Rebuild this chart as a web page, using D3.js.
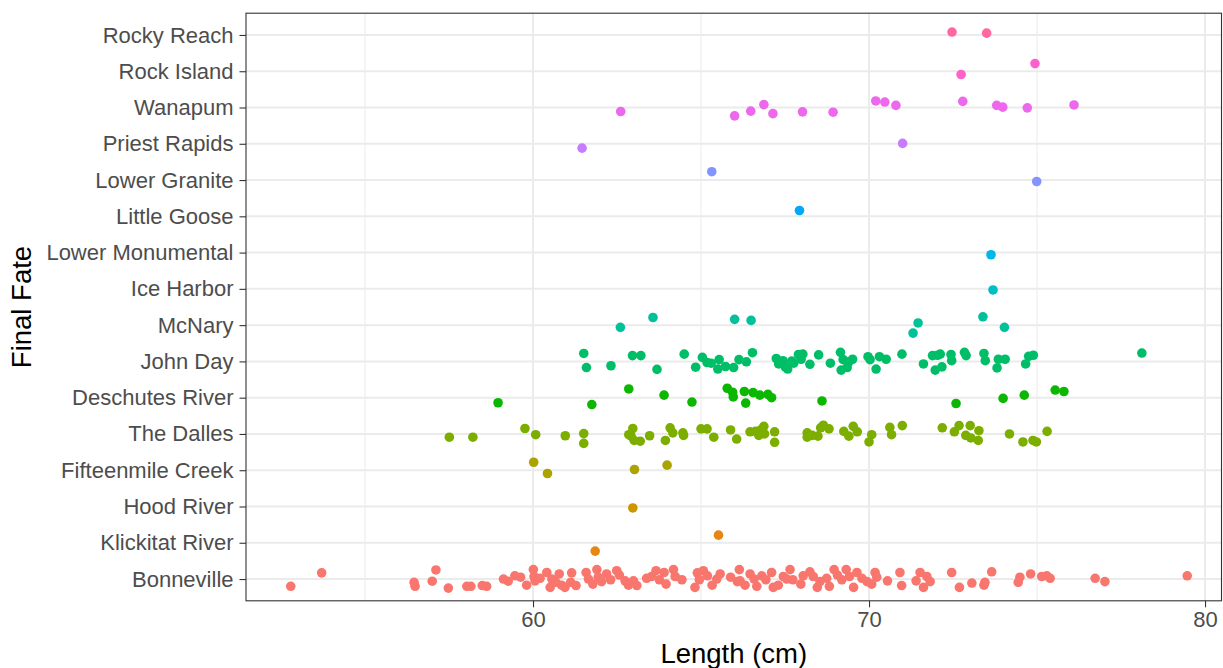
<!DOCTYPE html>
<html>
<head>
<meta charset="utf-8">
<script src="https://cdnjs.cloudflare.com/ajax/libs/d3/7.8.5/d3.min.js"></script>
<style>
  html, body { margin: 0; padding: 0; background: #ffffff; }
  svg { display: block; font-family: "Liberation Sans", Arial, Helvetica, sans-serif; }
</style>
</head>
<body>
<svg id="chart" width="1223" height="668"></svg>
<script>
// ---------------- data ----------------
// categories from bottom to top
const categories = ["Bonneville", "Klickitat River", "Hood River", "Fifteenmile Creek", "The Dalles",
  "Deschutes River", "John Day", "McNary", "Ice Harbor", "Lower Monumental", "Little Goose",
  "Lower Granite", "Priest Rapids", "Wanapum", "Rock Island", "Rocky Reach"];

const xTicks = [60, 70, 80];
const xMinorTicks = [55, 65, 75];

// each point: [length (cm), vertical jitter (category units)]
const bonneville = [
  [52.79,-0.20],[53.71,0.17],[56.46,-0.09],[56.49,-0.20],[57.00,-0.06],[57.11,0.25],[57.48,-0.25],[58.03,-0.20],
  [58.15,-0.20],[58.49,-0.18],[58.62,-0.20],[59.12,0],[59.26,-0.06],[59.46,0.09],[59.63,0.05],[59.81,-0.17],
  [60.01,0.26],[60.03,0.07],[60.06,-0.05],[60.21,0.02],[60.41,0.18],[60.51,-0.23],[60.56,0],[60.68,-0.09],
  [60.78,0.14],[60.85,-0.17],[60.95,-0.23],[61.12,-0.09],[61.15,0.17],[61.28,-0.18],[61.58,0.18],[61.65,0],
  [61.78,-0.14],[61.90,0.26],[61.94,0.05],[62.04,-0.07],[62.19,0.14],[62.31,-0.02],[62.49,0.23],[62.57,0.11],
  [62.74,-0.05],[62.84,-0.17],[62.99,-0.05],[63.09,-0.18],[63.38,0.02],[63.53,0.07],[63.66,0.23],[63.76,-0.02],
  [63.90,0.18],[63.96,-0.14],[64.18,0.26],[64.23,0.07],[64.43,-0.02],[64.82,-0.23],[64.89,0.17],[64.95,-0.02],
  [65.07,0.23],[65.19,0.09],[65.33,-0.17],[65.47,0],[65.57,0.14],[65.88,0.05],[66.08,-0.07],[66.14,0.26],
  [66.16,-0.05],[66.31,-0.17],[66.46,0.14],[66.58,0],[66.66,-0.20],[66.81,0.09],[66.93,-0.02],[67.10,0.18],
  [67.15,-0.23],[67.30,-0.17],[67.45,0.07],[67.55,0],[67.65,0.26],[67.73,-0.02],[67.97,-0.14],[68.04,0.09],
  [68.24,0.20],[68.34,0.07],[68.46,-0.23],[68.54,-0.07],[68.74,0.02],[68.82,-0.20],[68.96,0.26],[69.06,0.11],
  [69.19,-0.02],[69.32,0.26],[69.42,0.07],[69.54,-0.23],[69.64,0.18],[69.79,0.02],[69.94,-0.07],[70.08,-0.14],
  [70.18,0.18],[70.23,0.05],[70.55,-0.05],[70.92,0.18],[70.97,-0.18],[71.40,-0.05],[71.52,0.18],[71.62,-0.23],
  [71.72,0.07],[71.82,-0.07],[72.46,0.18],[72.69,-0.23],[73.06,-0.11],[73.42,-0.17],[73.45,-0.09],[73.65,0.20],
  [74.44,-0.09],[74.49,0.05],[74.81,0.14],[75.14,0.07],[75.29,0.09],[75.39,0.02],[76.73,0.02],[77.02,-0.07],
  [79.47,0.09]
];
const klickitatRiver = [[61.85,-0.23],[65.52,0.21]];
const hoodRiver = [[62.97,-0.04]];
const fifteenmileCreek = [[60.02,0.22],[60.43,-0.09],[63.02,0.02],[63.99,0.14]];
const theDalles = [
  [57.51,-0.09],[58.21,-0.09],[59.76,0.15],[60.08,-0.02],[60.96,-0.05],[61.51,0.01],[61.51,-0.26],[62.85,-0.02],
  [62.97,0.15],[62.92,-0.06],[63.01,-0.18],[63.19,-0.20],[63.47,-0.05],[63.94,-0.18],[64.08,0.17],[64.16,0.03],
  [64.46,0.03],[64.48,-0.04],[65.00,0.14],[65.18,0.14],[65.38,-0.09],[65.88,0.11],[66.06,-0.14],[66.46,0.06],
  [66.62,0.07],[66.72,-0.04],[66.79,0.12],[66.87,0.21],[66.89,0],[67.19,0.06],[67.19,-0.23],[68.16,0.03],
  [68.16,-0.09],[68.31,-0.04],[68.48,-0.06],[68.56,0.17],[68.64,0.24],[68.81,0.14],[69.25,0.07],[69.40,-0.06],
  [69.53,0.21],[69.65,0.06],[70.08,-0.02],[70.00,-0.22],[70.62,0.18],[70.67,-0.02],[70.99,0.23],[72.18,0.17],
  [72.54,0.06],[72.68,0.23],[72.88,-0.04],[73.01,0.23],[73.03,-0.11],[73.27,0.09],[73.25,-0.18],[74.18,0],
  [74.58,-0.22],[74.88,-0.18],[74.98,-0.22],[75.30,0.07]
];
const deschutesRiver = [
  [58.96,-0.14],[61.75,-0.19],[62.85,0.24],[63.90,0.07],[64.73,-0.12],[65.78,0.26],[65.94,0.15],[65.96,0.02],
  [66.29,0.17],[66.33,-0.15],[66.55,0.14],[66.75,0.07],[66.99,0.09],[67.10,0],[68.60,-0.09],[72.59,-0.16],
  [73.99,-0.02],[74.62,0.07],[75.54,0.21],[75.80,0.17]
];
const johnDay = [
  [61.51,0.22],[61.59,-0.17],[62.32,-0.12],[62.96,0.16],[63.21,0.16],[63.69,-0.22],[64.50,0.20],[64.84,-0.16],
  [65.04,0.11],[65.18,-0.03],[65.30,-0.05],[65.50,-0.21],[65.54,0.05],[65.73,-0.14],[65.97,-0.17],[66.13,0.05],
  [66.35,-0.01],[66.53,0.24],[67.24,0.08],[67.31,-0.07],[67.44,0.02],[67.51,-0.16],[67.58,-0.21],[67.70,0.01],
  [67.76,-0.05],[67.90,0.19],[67.98,0.06],[68.03,0.20],[68.24,-0.08],[68.50,0.18],[68.85,-0.05],[69.15,0.25],
  [69.17,-0.24],[69.23,0.05],[69.35,-0.17],[69.40,-0.01],[69.51,0.06],[69.97,0.13],[70.03,0.05],[70.21,-0.21],
  [70.31,0.13],[70.51,0.06],[70.98,0.20],[71.62,-0.07],[71.89,0.16],[71.97,-0.24],[72.04,0.17],[72.12,0.20],
  [72.17,-0.15],[72.44,0.19],[72.46,0.02],[72.84,0.25],[72.89,0.16],[73.42,0.22],[73.46,0.02],[73.81,-0.18],
  [73.85,0.06],[74.05,0.06],[74.66,-0.07],[74.75,0.14],[74.89,0.17],[78.12,0.23]
];
const mcNary = [[62.60,-0.06],[63.57,0.21],[66.00,0.16],[66.49,0.13],[71.31,-0.22],[71.46,0.06],[73.39,0.23],[74.03,-0.06]];
const iceHarbor = [[73.69,-0.03]];
const lowerMonumental = [[73.63,-0.06]];
const littleGoose = [[67.93,0.16]];
const lowerGranite = [[65.32,0.23],[74.99,-0.04]];
const priestRapids = [[61.46,-0.12],[71.00,0.01]];
const wanapum = [
  [62.61,-0.11],[66.00,-0.23],[66.48,-0.10],[66.87,0.08],[67.14,-0.17],[68.02,-0.12],[68.93,-0.13],[70.20,0.18],
  [70.47,0.15],[70.80,0.06],[72.79,0.17],[73.80,0.06],[73.98,0.01],[74.71,-0.01],[76.10,0.07]
];
const rockIsland = [[72.74,-0.09],[74.94,0.21]];
const rockyReach = [[72.47,0.08],[73.50,0.05]];

const series = [bonneville, klickitatRiver, hoodRiver, fifteenmileCreek, theDalles, deschutesRiver, johnDay,
  mcNary, iceHarbor, lowerMonumental, littleGoose, lowerGranite, priestRapids, wanapum, rockIsland, rockyReach];

// ---------------- colours: ggplot2 default hue palette (polar LUV) ----------------
function hueColor(h) {
  const L = 65, C = 100, hr = h * Math.PI / 180;
  const U = C * Math.cos(hr), V = C * Math.sin(hr);
  const Y = 100 * Math.pow((L + 16) / 116, 3);
  const un = 0.1978398, vn = 0.4683363;
  const u = U / (13 * L) + un, v = V / (13 * L) + vn;
  const X = 9.0 * Y * u / (4 * v);
  const Z = -X / 3 - 5 * Y + 3 * Y / v;
  const x = X / 100, y = Y / 100, z = Z / 100;
  const lin = [
    3.240479 * x - 1.537150 * y - 0.498535 * z,
    -0.969256 * x + 1.875992 * y + 0.041556 * z,
    0.055648 * x - 0.204043 * y + 1.057311 * z
  ];
  const g = lin.map(c => {
    const s = c > 0.00304 ? 1.055 * Math.pow(c, 1 / 2.4) - 0.055 : 12.92 * c;
    return Math.round(255 * Math.max(0, Math.min(1, s)));
  });
  return d3.rgb(g[0], g[1], g[2]).formatHex();
}
const n = categories.length;
const colors = categories.map((c, i) => hueColor(15 + i * 360 / n));
const color = d3.scaleOrdinal().domain(categories).range(colors);

// ---------------- layout ----------------
const panel = { left: 246, right: 1221.5, top: 13.2, bottom: 600.8 };
const svg = d3.select("#chart");
svg.append("rect").attr("width", 1223).attr("height", 668).attr("fill", "#ffffff");

const x = d3.scaleLinear().domain([51.458, 80.49]).range([panel.left, panel.right]);
const y = d3.scaleLinear().domain([1 - 0.6, n + 0.6]).range([panel.bottom, panel.top]);

// grid
const grid = svg.append("g");
grid.selectAll("line.minor").data(xMinorTicks).join("line")
  .attr("x1", d => x(d)).attr("x2", d => x(d))
  .attr("y1", panel.top).attr("y2", panel.bottom)
  .attr("stroke", "#ebebeb").attr("stroke-width", 1);
grid.selectAll("line.majx").data(xTicks).join("line")
  .attr("x1", d => x(d)).attr("x2", d => x(d))
  .attr("y1", panel.top).attr("y2", panel.bottom)
  .attr("stroke", "#ebebeb").attr("stroke-width", 2);
grid.selectAll("line.majy").data(d3.range(1, n + 1)).join("line")
  .attr("x1", panel.left).attr("x2", panel.right)
  .attr("y1", d => y(d)).attr("y2", d => y(d))
  .attr("stroke", "#ebebeb").attr("stroke-width", 2);

// points
const pts = [];
series.forEach((arr, i) => arr.forEach(p => pts.push({ cat: categories[i], idx: i + 1, len: p[0], jit: p[1] })));
svg.append("g").selectAll("circle").data(pts).join("circle")
  .attr("cx", d => x(d.len))
  .attr("cy", d => y(d.idx + d.jit))
  .attr("r", 4.8)
  .attr("fill", d => color(d.cat));

// panel border
svg.append("rect")
  .attr("x", panel.left).attr("y", panel.top)
  .attr("width", panel.right - panel.left).attr("height", panel.bottom - panel.top)
  .attr("fill", "none").attr("stroke", "#333333").attr("stroke-width", 1.1);

// axes
const xAxis = svg.append("g").attr("transform", `translate(0,${panel.bottom})`)
  .call(d3.axisBottom(x).tickValues(xTicks).tickSize(6.5).tickPadding(4).tickFormat(d3.format("d")));
const yAxis = svg.append("g").attr("transform", `translate(${panel.left},0)`)
  .call(d3.axisLeft(y).tickValues(d3.range(1, n + 1)).tickSize(6.5).tickPadding(6).tickFormat(i => categories[i - 1]));
[xAxis, yAxis].forEach(a => {
  a.select(".domain").remove();
  a.selectAll(".tick line").attr("stroke", "#333333").attr("stroke-width", 1.1);
  a.selectAll(".tick text").attr("fill", "#4d4d4d").attr("font-size", 22)
    .attr("font-family", "'Liberation Sans', Arial, sans-serif");
});

// titles
svg.append("text").attr("x", (panel.left + panel.right) / 2).attr("y", 663)
  .attr("text-anchor", "middle").attr("font-size", 27.5).attr("fill", "#000")
  .text("Length (cm)");
svg.append("text")
  .attr("transform", `translate(31,${(panel.top + panel.bottom) / 2}) rotate(-90)`)
  .attr("text-anchor", "middle").attr("font-size", 27.5).attr("fill", "#000")
  .text("Final Fate");
</script>
</body>
</html>
